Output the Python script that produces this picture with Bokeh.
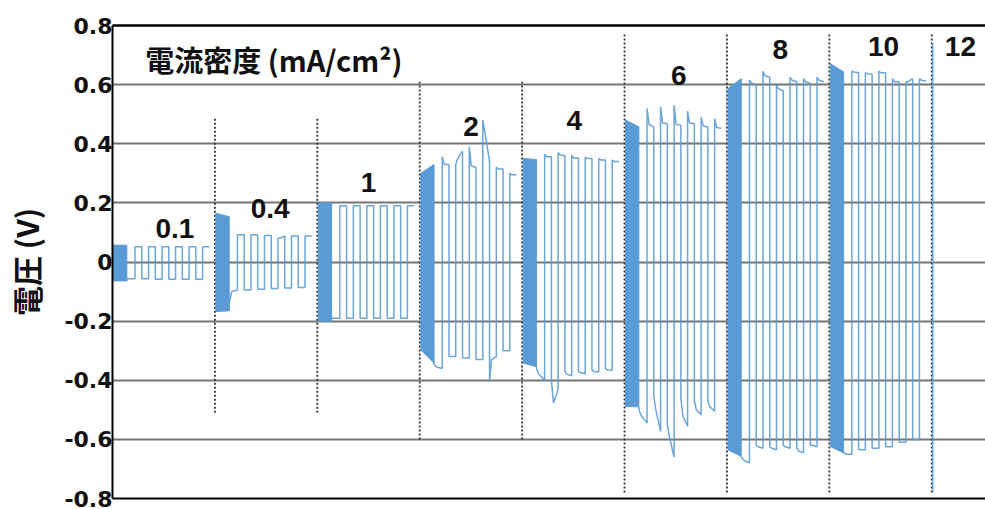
from bokeh.plotting import figure
from bokeh.models import FixedTicker, LinearAxis, Range1d, ColumnDataSource, Label
from bokeh.embed import file_html
from bokeh.resources import INLINE
from bokeh.core.properties import value

# ---------------- data ----------------
density_labels = ["0.1", "0.4", "1", "2", "4", "6", "8", "10", "12"]

# dense (fast-cycling) block at the start of each current step: envelope
block_top_start = [0.057, 0.165, 0.200, 0.300, 0.350, 0.480, 0.587, 0.671, 0.740]
block_top_end   = [0.057, 0.153, 0.200, 0.330, 0.347, 0.457, 0.620, 0.643, 0.740]
block_bot_start = [-0.064, -0.168, -0.200, -0.297, -0.342, -0.489, -0.635, -0.624, -0.780]
block_bot_end   = [-0.064, -0.165, -0.200, -0.342, -0.354, -0.490, -0.658, -0.646, -0.780]

# slow square-wave plateaus after each block: [start, early, end] voltage (V)
lo_0p1 = [[-0.057] * 3, [-0.057] * 3, [-0.058] * 3, [-0.058] * 3, [-0.058] * 3, [-0.058] * 3]
hi_0p1 = [[0.052] * 3, [0.052] * 3, [0.052] * 3, [0.052] * 3, [0.052] * 3, [0.052] * 3]

lo_0p4 = [[-0.14, -0.10, -0.095], [-0.095] * 3, [-0.092] * 3, [-0.090] * 3, [-0.088] * 3, [-0.086] * 3]
hi_0p4 = [[0.092] * 3, [0.092] * 3, [0.090] * 3, [0.080, 0.080, 0.088], [0.088] * 3, [0.088] * 3]

lo_1 = [[-0.190] * 3, [-0.190] * 3, [-0.190] * 3, [-0.190] * 3, [-0.190] * 3, [-0.190] * 3]
hi_1 = [[0.190] * 3, [0.190] * 3, [0.190] * 3, [0.190] * 3, [0.190] * 3, [0.190] * 3]

lo_2 = [[-0.345, -0.355, -0.360], [-0.320] * 3, [-0.325] * 3, [-0.330] * 3,
        [-0.405, -0.330, -0.320], [-0.300] * 3]
hi_2 = [[0.356, 0.330, 0.330], [0.330, 0.350, 0.375], [0.390, 0.325, 0.320],
        [0.480, 0.440, 0.340], [0.320, 0.315, 0.315], [0.300, 0.295, 0.295]]

lo_4 = [[-0.360, -0.380, -0.400], [-0.400, -0.477, -0.430], [-0.370, -0.380, -0.385],
        [-0.370, -0.375, -0.378], [-0.365, -0.370, -0.372], [-0.360, -0.365, -0.366]]
hi_4 = [[0.365, 0.356, 0.356], [0.370, 0.362, 0.360], [0.360, 0.352, 0.352],
        [0.355, 0.350, 0.350], [0.350, 0.345, 0.345], [0.345, 0.340, 0.340]]

lo_6 = [[-0.500, -0.520, -0.545], [-0.455, -0.500, -0.573], [-0.550, -0.590, -0.660],
        [-0.460, -0.520, -0.556], [-0.470, -0.500, -0.517], [-0.470, -0.490, -0.505]]
hi_6 = [[0.520, 0.465, 0.457], [0.525, 0.470, 0.468], [0.530, 0.465, 0.463],
        [0.510, 0.470, 0.468], [0.490, 0.460, 0.457], [0.485, 0.455, 0.452]]

lo_8 = [[-0.660, -0.670, -0.680], [-0.620, -0.625, -0.630], [-0.625, -0.630, -0.635],
        [-0.620, -0.625, -0.630], [-0.630, -0.640, -0.645], [-0.620, -0.620, -0.625]]
hi_8 = [[0.615, 0.605, 0.600], [0.645, 0.630, 0.625], [0.600, 0.585, 0.580],
        [0.625, 0.615, 0.610], [0.620, 0.610, 0.605], [0.625, 0.615, 0.610]]

lo_10 = [[-0.645, -0.650, -0.650], [-0.635] * 3, [-0.630] * 3, [-0.625] * 3,
         [-0.610] * 3, [-0.600] * 3]
hi_10 = [[0.645, 0.643, 0.640], [0.640, 0.637, 0.635], [0.645, 0.640, 0.640],
         [0.620, 0.610, 0.610], [0.610, 0.610, 0.620], [0.620, 0.615, 0.612]]

seg_lows = [lo_0p1, lo_0p4, lo_1, lo_2, lo_4, lo_6, lo_8, lo_10]
seg_highs = [hi_0p1, hi_0p4, hi_1, hi_2, hi_4, hi_6, hi_8, hi_10]

# dotted step separators: extent (V)
sep_top = [0.49, 0.49, 0.61, 0.61, 0.775, 0.775, 0.775, 0.775]
sep_bot = [-0.51, -0.51, -0.60, -0.60, -0.78, -0.78, -0.78, -0.78]

y_ticks = [-0.8, -0.6, -0.4, -0.2, 0.0, 0.2, 0.4, 0.6, 0.8]
y_tick_labels = ["-0.8", "-0.6", "-0.4", "-0.2", "0", "0.2", "0.4", "0.6", "0.8"]

# ---------------- layout constants ----------------
BLUE = "#5b9bd5"
BLOCK_START, BLOCK_END = 0.01, 0.14
FIRST_LOW = 0.08
HALF = 0.066
label_x = [0.61, 1.54, 2.5, 3.5, 4.51, 5.53, 6.52, 7.53, 8.28]
label_y = [0.115, 0.18, 0.27, 0.46, 0.48, 0.63, 0.72, 0.73, 0.73]

p = figure(width=985, height=509, x_range=Range1d(0, 8.525), y_range=Range1d(-0.8, 0.8),
           output_backend="svg", toolbar_location=None,
           min_border_left=112, min_border_right=0, min_border_top=25, min_border_bottom=11)
p.outline_line_color = None
p.background_fill_color = "white"

# grid
ticker = FixedTicker(ticks=y_ticks)
p.ygrid.ticker = ticker
p.ygrid.grid_line_color = "#757575"
p.ygrid.grid_line_width = 2
p.xgrid.visible = False

# y axis
ya = p.yaxis[0]
ya.ticker = ticker
ya.major_label_overrides = {t: s for t, s in zip(y_ticks, y_tick_labels)}
ya.major_tick_line_color = None
ya.minor_tick_line_color = None
ya.major_tick_out = 0
ya.major_tick_in = 0
ya.minor_tick_out = 0
ya.minor_tick_in = 0
ya.axis_line_color = "black"
ya.axis_line_width = 2
ya.major_label_text_font = "DejaVu Sans"
ya.major_label_text_font_style = "bold"
ya.major_label_text_font_size = "22px"
ya.major_label_text_color = "#111111"
ya.major_label_standoff = 0
ya.axis_label = "電圧 (V)"
ya.axis_label_text_font = "Noto Sans CJK JP"
ya.axis_label_text_font_style = "bold"
ya.axis_label_text_font_size = "30px"
ya.axis_label_text_color = "#111111"
ya.axis_label_standoff = 13

# bottom and top frame lines (axes without ticks or labels)
xa = p.xaxis[0]
xa.ticker = FixedTicker(ticks=[])
xa.major_tick_line_color = None
xa.minor_tick_line_color = None
xa.axis_line_color = "black"
xa.axis_line_width = 2
top_ax = LinearAxis(ticker=FixedTicker(ticks=[]), major_tick_line_color=None,
                    minor_tick_line_color=None, axis_line_color="black", axis_line_width=2.5)
p.add_layout(top_ax, "above")

# separators
n_sep = len(sep_top)
p.segment(x0=list(range(1, n_sep + 1)), y0=sep_bot, x1=list(range(1, n_sep + 1)), y1=sep_top,
          line_color="#333333", line_width=1.8, line_dash="2 2")

# dense blocks
bxs, bys = [], []
for i in range(len(seg_lows)):
    x0, x1 = i + BLOCK_START, i + BLOCK_END
    bxs.append([x0, x1, x1, x0])
    bys.append([block_top_start[i], block_top_end[i], block_bot_end[i], block_bot_start[i]])
p.patches(bxs, bys, fill_color=BLUE, line_color=BLUE, line_width=1)

# square-wave paths
pxs, pys = [], []
for i, (lows, highs) in enumerate(zip(seg_lows, seg_highs)):
    xs = [i + BLOCK_END, i + BLOCK_END]
    ys = [block_bot_end[i], lows[0][0]]
    t = i + BLOCK_END
    plateaus = []
    for lo, hi in zip(lows, highs):
        plateaus.append(lo)
        plateaus.append(hi)
    for k, pl in enumerate(plateaus):
        d = FIRST_LOW if k == 0 else HALF
        xs += [t, t + 0.3 * d, t + d]
        ys += [pl[0], pl[1], pl[2]]
        t += d
    pxs.append(xs)
    pys.append(ys)
# last step (12 mA/cm2): only its first edge is visible
pxs.append([8 + BLOCK_START, 8 + BLOCK_START])
pys.append([block_bot_start[8], block_top_start[8]])
p.multi_line(pxs, pys, line_color=BLUE, line_width=1.5, line_alpha=0.9)

# step labels
src = ColumnDataSource(dict(x=label_x, y=label_y, t=density_labels))
p.text(x="x", y="y", text="t", source=src, text_font=value("Liberation Sans"),
       text_font_style="bold", text_font_size="28px", text_align="center",
       text_baseline="middle", text_color="#111111")

p.add_layout(Label(x=0.32, y=0.685, text="電流密度 (mA/cm²)", text_font="Noto Sans CJK JP",
                   text_font_style="bold", text_font_size="29px", text_baseline="middle",
                   text_color="#111111"))

open("out.html", "w").write(file_html(p, INLINE))
